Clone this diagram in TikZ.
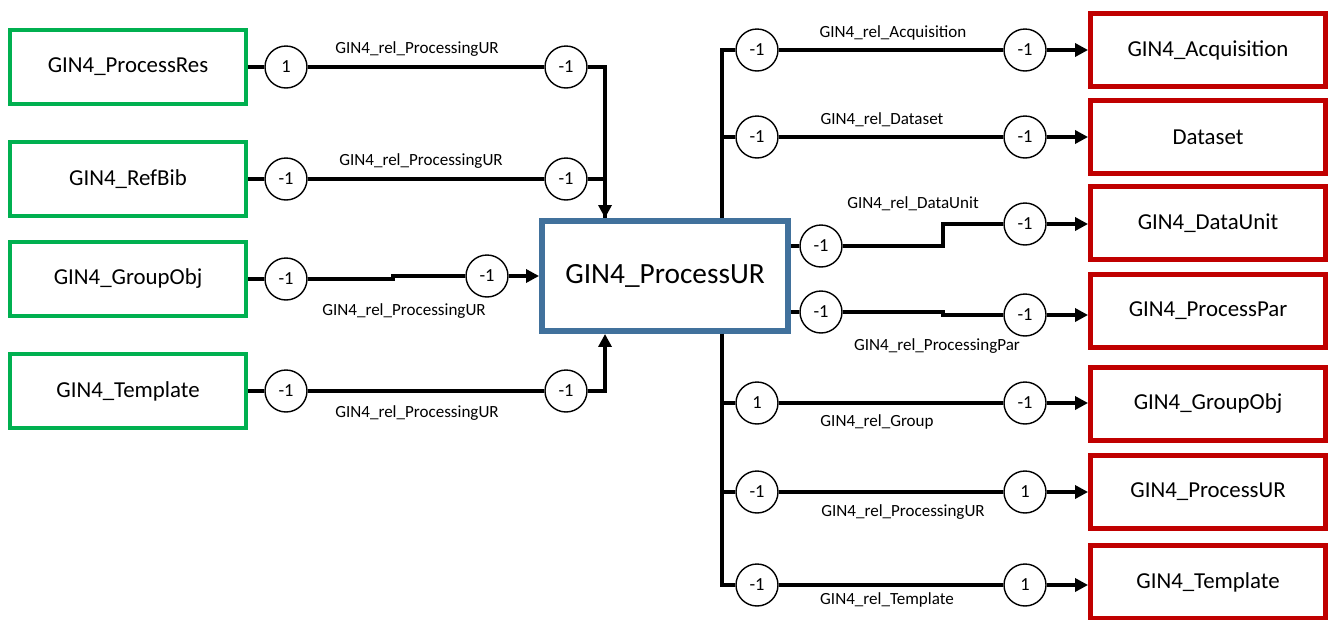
\documentclass[tikz,border=0pt]{standalone}
\usepackage{fontspec}
\setmainfont{Carlito}
\usetikzlibrary{arrows.meta, positioning, calc}
\definecolor{srcgreen}{RGB}{0,176,80}
\definecolor{mainblue}{RGB}{65,113,156}
\definecolor{tgtred}{RGB}{192,0,0}

\begin{document}
\begin{tikzpicture}[x=0.02cm, y=-0.02cm,
    srcbox/.style={draw=srcgreen, line width=2.3pt, minimum width=4.72cm, minimum height=1.48cm, font=\fontsize{13}{15}\selectfont},
    tgtbox/.style={draw=tgtred, line width=2.8pt, minimum width=4.7cm, minimum height=1.46cm, font=\fontsize{13}{15}\selectfont},
    card/.style={circle, draw, fill=white, line width=0.8pt, minimum size=0.84cm, inner sep=0pt, font=\fontsize{10.5}{12}\selectfont},
    rel/.style={font=\fontsize{9.7}{11}\selectfont, inner sep=1pt},
    link/.style={line width=2.3pt},
    linkto/.style={link, -{Triangle[length=0.26cm, width=0.26cm]}}
]
\useasboundingbox (0,0) rectangle (1332,619);

\node[srcbox] (sres) at (128,67) {GIN4\_ProcessRes};
\node[srcbox] (sbib) at (128,179) {GIN4\_RefBib};
\node[srcbox] (sgrp) at (128,279) {GIN4\_GroupObj};
\node[srcbox] (stpl) at (128,391) {GIN4\_Template};

\node[draw=mainblue, line width=3.4pt, minimum width=4.92cm, minimum height=2.2cm, font=\fontsize{16.7}{19}\selectfont] (proc) at (665,276) {GIN4\_ProcessUR};

\node[tgtbox] (tacq) at (1208,50) {GIN4\_Acquisition};
\node[tgtbox] (tds) at (1208,137) {Dataset};
\node[tgtbox] (tdu) at (1208,223) {GIN4\_DataUnit};
\node[tgtbox] (tpp) at (1208,311) {GIN4\_ProcessPar};
\node[tgtbox] (tgo) at (1208,404) {GIN4\_GroupObj};
\node[tgtbox] (tpu) at (1208,492) {GIN4\_ProcessUR};
\node[tgtbox] (ttp) at (1208,582) {GIN4\_Template};

\node[card] (cres1) at (286,67) {1};
\node[card] (cres2) at (566,67) {-1};
\node[card] (cbib1) at (286,179) {-1};
\node[card] (cbib2) at (566,179) {-1};
\node[card] (cgrp1) at (286,279) {-1};
\node[card] (cgrp2) at (487,276) {-1};
\node[card] (ctpl1) at (286,391) {-1};
\node[card] (ctpl2) at (566,391) {-1};

\node[card] (cacq1) at (757,50) {-1};
\node[card] (cacq2) at (1025,50) {-1};
\node[card] (cds1) at (757,137) {-1};
\node[card] (cds2) at (1025,137) {-1};
\node[card] (cdu1) at (821,246) {-1};
\node[card] (cdu2) at (1025,224) {-1};
\node[card] (cpp1) at (821,312) {-1};
\node[card] (cpp2) at (1025,315) {-1};
\node[card] (cgo1) at (757,403) {1};
\node[card] (cgo2) at (1025,403) {-1};
\node[card] (cpu1) at (757,492) {-1};
\node[card] (cpu2) at (1025,492) {1};
\node[card] (ctp1) at (757,585) {-1};
\node[card] (ctp2) at (1025,585) {1};

\node[rel] (lres) at (417,49) {GIN4\_rel\_ProcessingUR};
\node[rel] (lbib) at (421,161) {GIN4\_rel\_ProcessingUR};
\node[rel] (lgrp) at (404,311) {GIN4\_rel\_ProcessingUR};
\node[rel] (ltpl) at (417,413) {GIN4\_rel\_ProcessingUR};
\node[rel] (lacq) at (893,33) {GIN4\_rel\_Acquisition};
\node[rel] (lds) at (882,120) {GIN4\_rel\_Dataset};
\node[rel] (ldu) at (913,204) {GIN4\_rel\_DataUnit};
\node[rel] (lpp) at (937,346) {GIN4\_rel\_ProcessingPar};
\node[rel] (lgo) at (877,422) {GIN4\_rel\_Group};
\node[rel] (lpu) at (903,512) {GIN4\_rel\_ProcessingUR};
\node[rel] (ltp) at (887,600) {GIN4\_rel\_Template};

% incoming
\draw[link] (sres) -- (cres1);
\draw[link] (cres1) -- (cres2);
\draw[linkto] (cres2) -| ([xshift=-1.2cm]proc.north);
\draw[link] (sbib) -- (cbib1);
\draw[link] (cbib1) -- (cbib2);
\draw[link] (cbib2) -| ([xshift=-1.2cm]proc.north);
\draw[link] (sgrp) -- (cgrp1);
\draw[link] (cgrp1) -- (393,279) -- (393,276) -- (cgrp2);
\draw[linkto] (cgrp2) -- (proc);
\draw[link] (stpl) -- (ctpl1);
\draw[link] (ctpl1) -- (ctpl2);
\draw[linkto] (ctpl2) -| ([xshift=-1.2cm]proc.south);

% outgoing
\draw[link] ([xshift=1.14cm]proc.north) |- (cacq1);
\draw[link] ([xshift=1.14cm]proc.north) |- (cds1);
\draw[link] (cacq1) -- (cacq2);
\draw[linkto] (cacq2) -- (cacq2 -| tacq.west);
\draw[link] (cds1) -- (cds2);
\draw[linkto] (cds2) -- (cds2 -| tds.west);
\draw[link] (proc.east |- cdu1) -- (cdu1);
\draw[link] (cdu1) -- (943,246) -- (943,224) -- (cdu2);
\draw[linkto] (cdu2) -- (cdu2 -| tdu.west);
\draw[link] (proc.east |- cpp1) -- (cpp1);
\draw[link] (cpp1) -- (943,312) -- (943,315) -- (cpp2);
\draw[linkto] (cpp2) -- (cpp2 -| tpp.west);
\draw[link] ([xshift=1.14cm]proc.south) |- (cgo1);
\draw[link] ([xshift=1.14cm]proc.south) |- (cpu1);
\draw[link] ([xshift=1.14cm]proc.south) |- (ctp1);
\draw[link] (cgo1) -- (cgo2);
\draw[linkto] (cgo2) -- (cgo2 -| tgo.west);
\draw[link] (cpu1) -- (cpu2);
\draw[linkto] (cpu2) -- (cpu2 -| tpu.west);
\draw[link] (ctp1) -- (ctp2);
\draw[linkto] (ctp2) -- (ctp2 -| ttp.west);
\end{tikzpicture}
\end{document}
